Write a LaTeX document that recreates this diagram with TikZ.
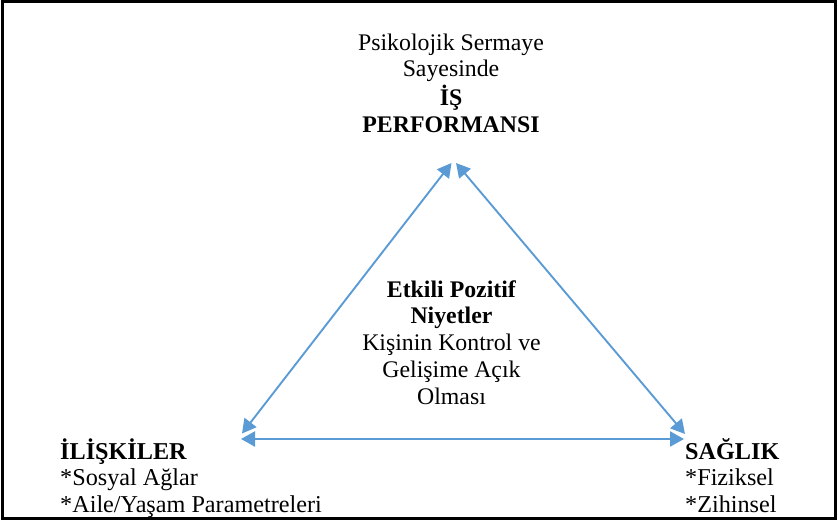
\documentclass[tikz,border=0pt]{standalone}
\usepackage{fontspec}
\setmainfont{Liberation Serif}
\usetikzlibrary{arrows.meta}
\definecolor{linkblue}{HTML}{5B9BD5}
\begin{document}
\begin{tikzpicture}[x=1pt,y=-1pt,
  labeltext/.style={inner sep=0pt, font=\fontsize{23.8}{26.8}\selectfont},
  cornertext/.style={labeltext, anchor=base west, font=\fontsize{24.2}{26.8}\selectfont},
  link/.style={draw=linkblue, line width=1.9pt,
    {Triangle[length=14pt,width=15pt]}-{Triangle[length=14pt,width=15pt]}}]
  \useasboundingbox (0,0) rectangle (838,522);
  % outer frame
  \draw[line width=3pt] (2.5,1.5) rectangle (835.5,518.5);

  % texts at the corners and in the middle of the triangle
  \node[labeltext, anchor=base] (perf) at (451,50)
    {\begin{tabular}[t]{@{}c@{}}Psikolojik Sermaye\\ Sayesinde\\ \textbf{İŞ}\\ \textbf{PERFORMANSI}\end{tabular}};
  \node[labeltext, anchor=base] (intent) at (451.5,297)
    {\begin{tabular}[t]{@{}c@{}}\textbf{Etkili Pozitif}\\ \textbf{Niyetler}\\ Kişinin Kontrol ve\\ Gelişime Açık\\ Olması\end{tabular}};
  \node[cornertext] (rel) at (60,459)
    {\begin{tabular}[t]{@{}l@{}}\textbf{İLİŞKİLER}\\ {*}Sosyal Ağlar\\ {*}Aile/Yaşam Parametreleri\end{tabular}};
  \node[cornertext] (health) at (685,459)
    {\begin{tabular}[t]{@{}l@{}}\textbf{SAĞLIK}\\ {*}Fiziksel\\ {*}Zihinsel\end{tabular}};

  % arrow end points at the three corners
  \coordinate (topL) at (451.5,163);
  \coordinate (topR) at (456,163);
  \coordinate (leftD) at (242,433.5);
  \coordinate (leftH) at (241,439);
  \coordinate (rightD) at (685,434);
  \coordinate (rightH) at (684,439);

  % two-way links
  \draw[link] (topL) -- (leftD);
  \draw[link] (topR) -- (rightD);
  \draw[link, line width=2.3pt] (leftH) -- (rightH);
\end{tikzpicture}
\end{document}
